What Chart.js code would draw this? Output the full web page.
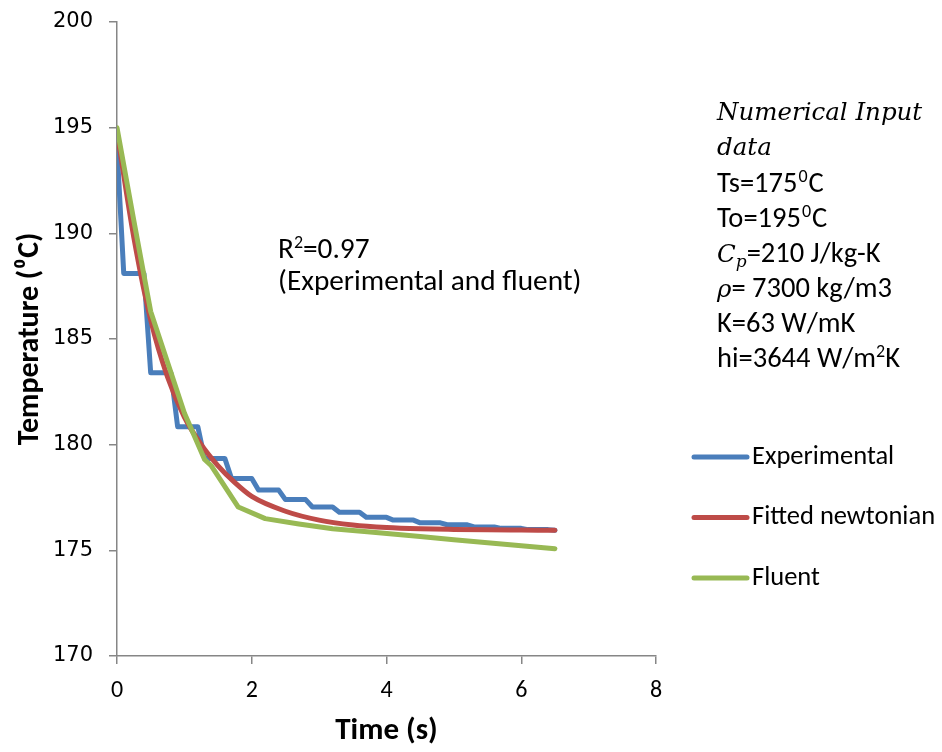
<!DOCTYPE html>
<html>
<head>
<meta charset="utf-8">
<script src="https://cdn.jsdelivr.net/npm/chart.js@4.4.0/dist/chart.umd.min.js"></script>
<style>
  html, body { margin: 0; padding: 0; background: #fff; }
  #wrap { width: 942px; height: 752px; }
</style>
</head>
<body>
<div id="wrap"><canvas id="tempChart" width="942" height="752"></canvas></div>
<script>
// series
const seriesNames = ['Experimental', 'Fitted newtonian', 'Fluent'];
const seriesColors = ['#4A7EBB', '#BE4B48', '#98B954'];

const expTime = [0, 0.1, 0.4, 0.5, 0.8, 0.9, 1.2, 1.3, 1.6, 1.7, 2.0, 2.1, 2.4, 2.5, 2.8, 2.9, 3.2,
                 3.3, 3.6, 3.7, 4.0, 4.1, 4.4, 4.5, 4.8, 4.9, 5.2, 5.3, 5.6, 5.7, 6.0, 6.1, 6.4, 6.5];
const expTemp = [194.1, 188.1, 188.1, 183.4, 183.4, 180.85, 180.85, 179.35, 179.35, 178.4, 178.4,
                 177.85, 177.85, 177.4, 177.4, 177.05, 177.05, 176.8, 176.8, 176.56, 176.56, 176.43,
                 176.43, 176.3, 176.3, 176.21, 176.21, 176.11, 176.11, 176.04, 176.04, 175.98, 175.98, 175.95];

const fitTime = [0, 0.25, 0.5, 0.75, 1.0, 1.25, 1.5, 1.75, 2.0, 2.5, 3.0, 3.5, 4.0, 4.5, 5.0, 5.5, 6.0, 6.5];
const fitTemp = [194.8, 189.8, 185.9, 183.2, 181.3, 180.0, 179.0, 178.2, 177.55, 176.85, 176.43,
                 176.2, 176.08, 176.02, 175.99, 175.97, 175.96, 175.95];

const fluentTime = [0, 0.25, 0.5, 0.75, 1.0, 1.15, 1.3, 1.4, 1.8, 2.2, 2.7, 3.2, 3.8, 4.5, 5.0, 5.5, 6.0, 6.5];
const fluentTemp = [195.0, 190.6, 186.3, 183.9, 181.5, 180.4, 179.3, 179.0, 177.05, 176.5, 176.25,
                    176.02, 175.86, 175.65, 175.5, 175.36, 175.22, 175.08];

const xTicks = [0, 2, 4, 6, 8];
const yTicks = [170, 175, 180, 185, 190, 195, 200];

const sans = 'Carlito, Lato, sans-serif';
const mathFont = '"DejaVu Serif", serif';

function toPoints(xs, ys) {
    return xs.map((x, i) => ({ x: x, y: ys[i] }));
}

// text boxes drawn on the canvas
const notePlugin = {
    id: 'notes',
    afterDraw(chart) {
        const ctx = chart.ctx;
        ctx.save();
        ctx.fillStyle = '#000';
        ctx.textBaseline = 'alphabetic';
        ctx.textAlign = 'left';

        const runs = (x, y, parts) => {
            parts.forEach(p => {
                ctx.font = p[1];
                ctx.fillText(p[0], x, y + (p[2] || 0));
                x += ctx.measureText(p[0]).width + (p[3] || 0);
            });
        };

        const note = '29.3px ' + sans;
        runs(278, 258, [['R', note], ['2', '18px ' + sans, -10], ['=0.97', note]]);
        runs(278, 290, [['(Experimental and fluent)', note]]);

        const body = '28.5px ' + sans;
        const sup = '18px ' + sans;
        const ital = 'italic 24.5px ' + mathFont;
        const x0 = 717;
        runs(x0, 120, [['Numerical Input', ital]]);
        runs(x0, 155, [['data', ital]]);
        runs(x0, 192, [['Ts=175', body, 0, 1], ['0', sup, -10, 1], ['C', body]]);
        runs(x0, 227, [['To=195', body, 0, 1], ['0', sup, -10, 1], ['C', body]]);
        runs(x0, 262, [['C', ital], ['p', 'italic 17px ' + mathFont, 5], ['=210 J/kg-K', body]]);
        runs(x0, 297, [['\u03C1', ital], ['= 7300 kg/m3', body]]);
        runs(x0, 332, [['K=63 W/mK', body]]);
        runs(x0, 367, [['hi=3644 W/m', body], ['2', sup, -10], ['K', body]]);

        // legend
        chart.data.datasets.forEach((ds, i) => {
            const y = 457 + i * 60.5;
            ctx.strokeStyle = ds.borderColor;
            ctx.lineWidth = 5;
            ctx.lineCap = 'round';
            ctx.beginPath();
            ctx.moveTo(694, y);
            ctx.lineTo(747, y);
            ctx.stroke();
            ctx.font = '26.5px ' + sans;
            ctx.textBaseline = 'middle';
            ctx.fillText(ds.label, 752, y);
            ctx.textBaseline = 'alphabetic';
        });
        ctx.restore();
    }
};

const axisGrey = '#868686';

new Chart(document.getElementById('tempChart'), {
    type: 'line',
    data: {
        datasets: [
            { label: seriesNames[0], data: toPoints(expTime, expTemp), borderColor: seriesColors[0], order: 3 },
            { label: seriesNames[1], data: toPoints(fitTime, fitTemp), borderColor: seriesColors[1], order: 2,
              cubicInterpolationMode: 'monotone' },
            { label: seriesNames[2], data: toPoints(fluentTime, fluentTemp), borderColor: seriesColors[2], order: 1 }
        ]
    },
    options: {
        responsive: false,
        animation: false,
        layout: { padding: { left: 0, right: 286, top: 22, bottom: 0 } },
        elements: {
            point: { radius: 0 },
            line: { borderWidth: 5, borderCapStyle: 'round', borderJoinStyle: 'round', tension: 0, fill: false }
        },
        plugins: {
            legend: { display: false },
            tooltip: { enabled: false }
        },
        scales: {
            x: {
                type: 'linear',
                min: 0,
                max: 8,
                afterBuildTicks: s => { s.ticks = xTicks.map(v => ({ value: v })); },
                afterFit: s => { s.height = 96; s.paddingLeft = 0; s.paddingRight = 0; },
                grid: { drawOnChartArea: false, drawTicks: true, tickLength: 8, color: axisGrey, lineWidth: 1.5 },
                border: { color: axisGrey, width: 1.5 },
                ticks: { color: '#000', font: { family: sans, size: 24 }, padding: 13, maxRotation: 0 },
                title: { display: true, text: 'Time (s)', color: '#000',
                         font: { family: sans, size: 31, weight: 'bold' }, padding: { top: 0, bottom: 2 } }
            },
            y: {
                min: 170,
                max: 200,
                afterBuildTicks: s => { s.ticks = yTicks.map(v => ({ value: v })); },
                afterFit: s => { s.width = 117; s.paddingTop = 0; s.paddingBottom = 0; },
                grid: { drawOnChartArea: false, drawTicks: true, tickLength: 8, color: axisGrey, lineWidth: 1.5 },
                border: { color: axisGrey, width: 1.5 },
                ticks: { color: '#000', font: { family: '"DejaVu Sans", sans-serif', size: 21 }, padding: 16 },
                title: { display: true, text: 'Temperature (\u2070C)', color: '#000',
                         font: { family: sans, size: 30, weight: 'bold' }, padding: { top: 12, bottom: 0 } }
            }
        }
    },
    plugins: [notePlugin]
});
</script>
</body>
</html>
